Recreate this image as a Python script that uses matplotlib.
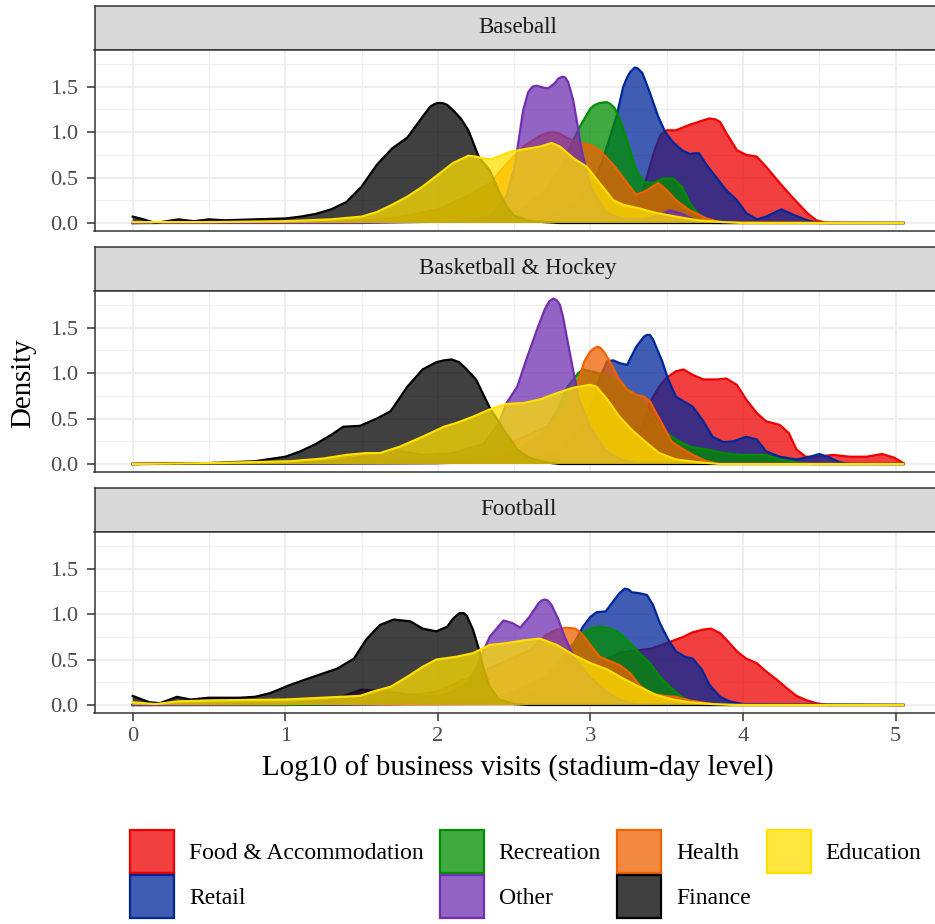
import matplotlib
matplotlib.use("Agg")
import matplotlib.pyplot as plt
from matplotlib.patches import Patch
from matplotlib.colors import to_rgba

plt.rcParams['font.family'] = ['Liberation Serif', 'DejaVu Serif']

# ---------------- data ----------------
FACETS = ["Baseball", "Basketball & Hockey", "Football"]
CATEGORIES = ["Food & Accommodation", "Retail", "Recreation", "Health", "Other", "Finance", "Education"]

# Baseball
BB_FOOD_X = [0, 0.7, 0.85, 1.0, 1.5, 2.5, 3.0, 3.2, 3.3, 3.36, 3.42, 3.46, 3.5, 3.56, 3.65, 3.74, 3.78, 3.82, 3.85, 3.89, 3.96, 4.02, 4.09, 4.15, 4.24, 4.33, 4.42, 4.48, 4.55, 5.05]
BB_FOOD_Y = [0, 0.01, 0.03, 0.01, 0.01, 0.02, 0.03, 0.06, 0.18, 0.45, 0.8, 0.97, 1.02, 1.02, 1.08, 1.13, 1.15, 1.14, 1.11, 0.99, 0.80, 0.75, 0.73, 0.62, 0.44, 0.27, 0.11, 0.03, 0.0, 0]
BB_RETAIL_X = [0, 1.5, 2.5, 2.7, 2.85, 2.95, 3.05, 3.11, 3.17, 3.215, 3.24, 3.26, 3.29, 3.31, 3.34, 3.37, 3.39, 3.444, 3.49, 3.54, 3.60, 3.65, 3.71, 3.76, 3.83, 3.89, 3.96, 4.02, 4.09, 4.15, 4.25, 4.33, 4.42, 4.5, 5.05]
BB_RETAIL_Y = [0, 0.01, 0.02, 0.06, 0.15, 0.3, 0.55, 0.85, 1.17, 1.50, 1.60, 1.66, 1.71, 1.70, 1.65, 1.52, 1.43, 1.17, 1.0, 0.89, 0.80, 0.76, 0.77, 0.64, 0.49, 0.36, 0.25, 0.11, 0.04, 0.07, 0.15, 0.09, 0.03, 0.0, 0]
BB_REC_X = [0, 1.5, 2.2, 2.4, 2.55, 2.7, 2.8, 2.87, 2.93, 3.0, 3.03, 3.06, 3.105, 3.13, 3.16, 3.2, 3.26, 3.30, 3.35, 3.41, 3.48, 3.54, 3.60, 3.65, 3.70, 3.76, 3.85, 5.05]
BB_REC_Y = [0, 0.01, 0.03, 0.07, 0.15, 0.35, 0.6, 0.85, 1.06, 1.26, 1.30, 1.32, 1.33, 1.31, 1.26, 1.11, 0.80, 0.58, 0.45, 0.44, 0.49, 0.49, 0.40, 0.22, 0.11, 0.03, 0.0, 0]
BB_HEALTH_X = [0, 0.7, 0.85, 1.0, 1.2, 1.5, 1.8, 2.0, 2.2, 2.35, 2.45, 2.56, 2.67, 2.72, 2.756, 2.80, 2.843, 2.93, 2.996, 3.06, 3.15, 3.24, 3.30, 3.37, 3.444, 3.50, 3.56, 3.65, 3.76, 3.85, 5.05]
BB_HEALTH_Y = [0, 0.01, 0.04, 0.02, 0.01, 0.02, 0.08, 0.15, 0.3, 0.45, 0.65, 0.84, 0.96, 0.99, 1.0, 0.98, 0.94, 0.88, 0.86, 0.80, 0.64, 0.44, 0.31, 0.36, 0.44, 0.36, 0.25, 0.14, 0.05, 0.01, 0]
BB_OTHER_X = [0, 1.5, 2.2, 2.35, 2.45, 2.5, 2.527, 2.559, 2.592, 2.62, 2.647, 2.69, 2.723, 2.767, 2.79, 2.817, 2.835, 2.854, 2.887, 2.913, 2.942, 3.0, 3.1, 3.2, 3.35, 3.45, 3.52, 3.6, 3.7, 3.8, 5.05]
BB_OTHER_Y = [0, 0.0, 0.02, 0.08, 0.3, 0.6, 0.88, 1.24, 1.44, 1.50, 1.51, 1.49, 1.48, 1.54, 1.59, 1.61, 1.60, 1.55, 1.35, 1.10, 0.80, 0.40, 0.12, 0.05, 0.04, 0.08, 0.14, 0.1, 0.02, 0, 0]
BB_FIN_X = [0, 0.05, 0.15, 0.3, 0.4, 0.5, 0.6, 0.8, 1.0, 1.1, 1.2, 1.3, 1.4, 1.5, 1.6, 1.7, 1.8, 1.9, 1.95, 1.98, 2.0, 2.03, 2.06, 2.1, 2.15, 2.2, 2.27, 2.34, 2.4, 2.45, 2.5, 2.6, 2.8, 5.05]
BB_FIN_Y = [0.07, 0.05, 0.0, 0.04, 0.02, 0.04, 0.03, 0.04, 0.05, 0.07, 0.1, 0.15, 0.23, 0.4, 0.64, 0.82, 0.94, 1.17, 1.28, 1.31, 1.32, 1.32, 1.30, 1.24, 1.15, 1.02, 0.72, 0.58, 0.35, 0.18, 0.08, 0.02, 0.0, 0]
BB_EDU_X = [0, 0.5, 1.0, 1.3, 1.5, 1.6, 1.7, 1.8, 1.9, 2.0, 2.1, 2.2, 2.25, 2.3, 2.35, 2.47, 2.56, 2.67, 2.745, 2.80, 2.89, 2.975, 3.06, 3.15, 3.215, 3.32, 3.43, 3.56, 3.70, 3.87, 4.0, 5.05]
BB_EDU_Y = [0.01, 0.01, 0.02, 0.04, 0.07, 0.12, 0.2, 0.29, 0.4, 0.53, 0.66, 0.74, 0.73, 0.71, 0.70, 0.78, 0.81, 0.84, 0.88, 0.84, 0.71, 0.62, 0.44, 0.25, 0.2, 0.16, 0.11, 0.07, 0.03, 0.01, 0, 0]

# Basketball & Hockey
BK_FOOD_X = [0, 2.0, 2.8, 3.0, 3.2, 3.3, 3.35, 3.39, 3.45, 3.5, 3.56, 3.61, 3.67, 3.74, 3.83, 3.89, 3.96, 4.02, 4.09, 4.15, 4.24, 4.30, 4.35, 4.41, 4.48, 4.59, 4.70, 4.81, 4.91, 4.99, 5.05]
BK_FOOD_Y = [0, 0.01, 0.03, 0.05, 0.1, 0.25, 0.45, 0.68, 0.85, 0.95, 1.02, 1.04, 0.98, 0.93, 0.93, 0.94, 0.87, 0.71, 0.56, 0.47, 0.43, 0.34, 0.16, 0.08, 0.08, 0.10, 0.08, 0.08, 0.11, 0.07, 0.01]
BK_RETAIL_X = [0, 2.0, 2.6, 2.8, 2.9, 3.0, 3.06, 3.11, 3.15, 3.19, 3.24, 3.30, 3.35, 3.37, 3.39, 3.41, 3.43, 3.47, 3.51, 3.56, 3.63, 3.67, 3.74, 3.80, 3.87, 3.94, 4.02, 4.09, 4.15, 4.24, 4.35, 4.44, 4.50, 4.57, 4.63, 4.7, 5.05]
BK_RETAIL_Y = [0, 0.01, 0.05, 0.15, 0.3, 0.6, 0.95, 1.13, 1.14, 1.11, 1.09, 1.29, 1.40, 1.42, 1.42, 1.37, 1.29, 1.13, 0.93, 0.74, 0.67, 0.63, 0.47, 0.30, 0.24, 0.25, 0.30, 0.27, 0.14, 0.08, 0.05, 0.08, 0.11, 0.07, 0.02, 0, 0]
BK_REC_X = [0, 1.0, 1.3, 1.5, 1.8, 2.2, 2.5, 2.7, 2.8, 2.85, 2.92, 2.95, 3.0, 3.1, 3.2, 3.3, 3.4, 3.45, 3.5, 3.56, 3.65, 3.76, 3.87, 3.98, 4.09, 4.15, 4.24, 4.35, 4.45, 5.05]
BK_REC_Y = [0, 0.01, 0.03, 0.03, 0.02, 0.05, 0.12, 0.35, 0.65, 0.85, 1.0, 1.04, 1.02, 0.98, 0.88, 0.75, 0.55, 0.42, 0.34, 0.27, 0.19, 0.16, 0.12, 0.10, 0.10, 0.10, 0.05, 0.02, 0, 0]
BK_HEALTH_X = [0, 1.5, 2.0, 2.3, 2.5, 2.7, 2.85, 2.93, 2.96, 3.0, 3.03, 3.05, 3.07, 3.094, 3.14, 3.18, 3.24, 3.30, 3.35, 3.39, 3.43, 3.48, 3.53, 3.59, 3.67, 3.76, 3.85, 5.05]
BK_HEALTH_Y = [0, 0.02, 0.05, 0.12, 0.25, 0.4, 0.6, 0.96, 1.13, 1.24, 1.28, 1.29, 1.27, 1.22, 1.09, 0.95, 0.82, 0.76, 0.74, 0.69, 0.56, 0.41, 0.25, 0.18, 0.10, 0.03, 0, 0]
BK_OTHER_X = [0, 1.3, 1.5, 1.72, 1.9, 2.1, 2.3, 2.4, 2.45, 2.52, 2.58, 2.65, 2.70, 2.73, 2.756, 2.78, 2.80, 2.82, 2.84, 2.89, 2.92, 3.0, 3.1, 3.2, 3.3, 5.05]
BK_OTHER_Y = [0, 0.02, 0.08, 0.15, 0.1, 0.12, 0.22, 0.45, 0.67, 0.85, 1.15, 1.48, 1.70, 1.79, 1.82, 1.80, 1.75, 1.62, 1.44, 1.0, 0.74, 0.4, 0.15, 0.05, 0.01, 0]
BK_FIN_X = [0, 0.5, 0.8, 1.0, 1.1, 1.2, 1.3, 1.38, 1.49, 1.6, 1.69, 1.8, 1.9, 1.99, 2.04, 2.09, 2.14, 2.19, 2.25, 2.34, 2.43, 2.52, 2.6, 2.7, 2.8, 5.05]
BK_FIN_Y = [0, 0.01, 0.03, 0.08, 0.14, 0.22, 0.32, 0.41, 0.42, 0.5, 0.58, 0.85, 1.04, 1.12, 1.14, 1.15, 1.12, 1.04, 0.93, 0.62, 0.38, 0.16, 0.07, 0.02, 0, 0]
BK_EDU_X = [0, 0.5, 1.03, 1.25, 1.40, 1.53, 1.62, 1.75, 1.90, 2.04, 2.12, 2.23, 2.34, 2.45, 2.56, 2.67, 2.78, 2.89, 2.996, 3.04, 3.11, 3.19, 3.28, 3.37, 3.45, 3.56, 3.70, 3.85, 5.05]
BK_EDU_Y = [0.0, 0.01, 0.03, 0.06, 0.10, 0.12, 0.12, 0.19, 0.30, 0.41, 0.45, 0.52, 0.60, 0.66, 0.67, 0.71, 0.78, 0.84, 0.87, 0.85, 0.71, 0.52, 0.36, 0.23, 0.12, 0.05, 0.02, 0, 0]

# Football
FB_FOOD_X = [0, 2.5, 2.7, 2.9, 3.0, 3.1, 3.2, 3.3, 3.4, 3.53, 3.61, 3.67, 3.74, 3.79, 3.85, 3.89, 3.96, 4.02, 4.09, 4.15, 4.22, 4.29, 4.35, 4.42, 4.48, 4.55, 5.05]
FB_FOOD_Y = [0, 0.01, 0.03, 0.1, 0.3, 0.5, 0.58, 0.6, 0.62, 0.70, 0.75, 0.80, 0.83, 0.84, 0.79, 0.72, 0.59, 0.51, 0.46, 0.37, 0.28, 0.18, 0.10, 0.05, 0.02, 0, 0]
FB_RETAIL_X = [0, 1.0, 2.3, 2.5, 2.7, 2.85, 2.9, 2.95, 3.0, 3.04, 3.10, 3.14, 3.19, 3.225, 3.25, 3.27, 3.32, 3.37, 3.41, 3.455, 3.51, 3.56, 3.62, 3.67, 3.73, 3.78, 3.85, 3.91, 4.0, 5.05]
FB_RETAIL_Y = [0, 0.0, 0.02, 0.05, 0.2, 0.5, 0.7, 0.86, 0.97, 1.02, 1.03, 1.12, 1.23, 1.28, 1.27, 1.24, 1.23, 1.21, 1.10, 0.90, 0.72, 0.59, 0.53, 0.51, 0.39, 0.22, 0.09, 0.04, 0.01, 0]
FB_REC_X = [0, 1.0, 2.3, 2.5, 2.7, 2.8, 2.9, 2.95, 3.0, 3.06, 3.13, 3.19, 3.26, 3.32, 3.39, 3.455, 3.52, 3.59, 3.65, 3.75, 5.05]
FB_REC_Y = [0, 0.0, 0.05, 0.15, 0.3, 0.5, 0.7, 0.79, 0.84, 0.86, 0.84, 0.79, 0.68, 0.57, 0.46, 0.31, 0.20, 0.10, 0.04, 0, 0]
FB_HEALTH_X = [0, 1.0, 1.5, 2.0, 2.2, 2.4, 2.6, 2.71, 2.78, 2.84, 2.90, 2.94, 3.0, 3.06, 3.13, 3.19, 3.26, 3.32, 3.39, 3.48, 3.56, 3.65, 3.76, 3.85, 5.05]
FB_HEALTH_Y = [0, 0.01, 0.03, 0.15, 0.3, 0.45, 0.6, 0.77, 0.83, 0.85, 0.84, 0.79, 0.66, 0.53, 0.48, 0.44, 0.35, 0.22, 0.13, 0.10, 0.09, 0.05, 0.02, 0, 0]
FB_OTHER_X = [0, 1.0, 1.3, 1.5, 1.7, 1.9, 2.0, 2.1, 2.2, 2.25, 2.3, 2.34, 2.43, 2.49, 2.54, 2.60, 2.66, 2.68, 2.70, 2.72, 2.745, 2.79, 2.83, 2.9, 3.0, 3.1, 3.2, 3.3, 5.05]
FB_OTHER_Y = [0, 0.01, 0.05, 0.17, 0.14, 0.1, 0.1, 0.15, 0.25, 0.4, 0.6, 0.75, 0.93, 0.90, 0.85, 0.97, 1.12, 1.15, 1.16, 1.15, 1.10, 0.94, 0.75, 0.5, 0.3, 0.15, 0.05, 0.01, 0]
FB_FIN_X = [0, 0.11, 0.18, 0.29, 0.38, 0.5, 0.7, 0.8, 0.9, 1.03, 1.2, 1.34, 1.45, 1.53, 1.62, 1.71, 1.82, 1.90, 1.99, 2.06, 2.10, 2.14, 2.17, 2.19, 2.23, 2.27, 2.3, 2.34, 2.4, 2.5, 2.6, 5.05]
FB_FIN_Y = [0.10, 0.03, 0.02, 0.09, 0.06, 0.08, 0.08, 0.09, 0.13, 0.22, 0.32, 0.40, 0.51, 0.72, 0.88, 0.94, 0.92, 0.84, 0.81, 0.86, 0.95, 1.01, 1.01, 0.98, 0.83, 0.61, 0.4, 0.2, 0.06, 0.01, 0, 0]
FB_EDU_X = [0, 0.15, 0.3, 0.5, 1.0, 1.49, 1.58, 1.69, 1.80, 1.90, 1.99, 2.12, 2.23, 2.34, 2.45, 2.56, 2.67, 2.78, 2.89, 3.0, 3.11, 3.215, 3.32, 3.43, 3.54, 3.65, 3.8, 3.95, 5.05]
FB_EDU_Y = [0.03, 0.01, 0.04, 0.05, 0.06, 0.10, 0.15, 0.20, 0.31, 0.42, 0.50, 0.53, 0.57, 0.66, 0.68, 0.71, 0.73, 0.66, 0.55, 0.46, 0.39, 0.29, 0.20, 0.11, 0.06, 0.03, 0.01, 0, 0]

X_TICKS = [0, 1, 2, 3, 4, 5]
Y_TICKS = [0.0, 0.5, 1.0, 1.5]
Y_TICK_LABELS = ["0.0", "0.5", "1.0", "1.5"]
X_LABEL = "Log10 of business visits (stadium-day level)"
Y_LABEL = "Density"

SERIES = {
    "Baseball": [(BB_FOOD_X, BB_FOOD_Y), (BB_RETAIL_X, BB_RETAIL_Y), (BB_REC_X, BB_REC_Y),
                 (BB_HEALTH_X, BB_HEALTH_Y), (BB_OTHER_X, BB_OTHER_Y), (BB_FIN_X, BB_FIN_Y), (BB_EDU_X, BB_EDU_Y)],
    "Basketball & Hockey": [(BK_FOOD_X, BK_FOOD_Y), (BK_RETAIL_X, BK_RETAIL_Y), (BK_REC_X, BK_REC_Y),
                            (BK_HEALTH_X, BK_HEALTH_Y), (BK_OTHER_X, BK_OTHER_Y), (BK_FIN_X, BK_FIN_Y), (BK_EDU_X, BK_EDU_Y)],
    "Football": [(FB_FOOD_X, FB_FOOD_Y), (FB_RETAIL_X, FB_RETAIL_Y), (FB_REC_X, FB_REC_Y),
                 (FB_HEALTH_X, FB_HEALTH_Y), (FB_OTHER_X, FB_OTHER_Y), (FB_FIN_X, FB_FIN_Y), (FB_EDU_X, FB_EDU_Y)],
}

# ---------------- styling ----------------
EDGE = {"Food & Accommodation": "#EE0000", "Retail": "#00279A", "Recreation": "#008E00",
        "Health": "#F06200", "Other": "#7030B0", "Finance": "#000000", "Education": "#FFE000"}
ALPHA = 0.75

W, H = 935, 924
fig = plt.figure(figsize=(W / 100, H / 100), dpi=100)

def fx(px):
    return px / W

def fy(py):
    return 1 - py / H

PANEL_L, PANEL_R = 94.5, 941.0
STRIPS = [(5.5, 50.0), (246.7, 291.0), (487.7, 532.0)]
PANELS = [(50.0, 231.0), (291.0, 472.0), (532.0, 713.0)]
XLIM = (-0.250, 5.297)
YLIM = (-0.088, 1.903)

BORDER = "#333333"
GRID = "#EBEBEB"
FS = 16.5

for i, facet in enumerate(FACETS):
    st, sb = STRIPS[i]
    pt, pb = PANELS[i]
    sax = fig.add_axes([fx(PANEL_L), fy(sb), fx(PANEL_R - PANEL_L), (sb - st) / H])
    sax.set_facecolor("#D9D9D9")
    sax.set_xticks([]); sax.set_yticks([])
    for s in sax.spines.values():
        s.set_color(BORDER); s.set_linewidth(1.1)
    sax.text((518 - PANEL_L) / (PANEL_R - PANEL_L), 0.5, facet, ha="center", va="center",
             fontsize=FS, color="#1A1A1A", transform=sax.transAxes)

    ax = fig.add_axes([fx(PANEL_L), fy(pb), fx(PANEL_R - PANEL_L), (pb - pt) / H])
    ax.set_xlim(*XLIM); ax.set_ylim(*YLIM)
    ax.set_facecolor("white")
    for v in [0.5, 1.5, 2.5, 3.5, 4.5]:
        ax.axvline(v, color=GRID, lw=0.6, zorder=0)
    for v in [0.25, 0.75, 1.25, 1.75]:
        ax.axhline(v, color=GRID, lw=0.6, zorder=0)
    for v in X_TICKS:
        ax.axvline(v, color=GRID, lw=1.2, zorder=0)
    for v in Y_TICKS:
        ax.axhline(v, color=GRID, lw=1.2, zorder=0)

    for k, (cat, (xs, ys)) in enumerate(zip(CATEGORIES, SERIES[facet])):
        ec = EDGE[cat]
        ax.fill_between(xs, ys, 0, facecolor=ec, alpha=ALPHA, edgecolor="none", zorder=2 + 2 * k)
        ax.plot(xs, ys, color=ec, lw=1.6, zorder=3 + 2 * k, solid_joinstyle="round")

    for s in ax.spines.values():
        s.set_color(BORDER); s.set_linewidth(1.1)
    ax.set_yticks(Y_TICKS)
    ax.set_yticklabels(Y_TICK_LABELS)
    ax.set_xticks(X_TICKS)
    ax.tick_params(axis="both", colors=BORDER, length=5.8, width=1.1, labelsize=FS - 0.3,
                   labelcolor="#4D4D4D")
    ax.tick_params(axis="y", pad=6)
    ax.tick_params(axis="x", pad=4.5)
    if i < 2:
        ax.tick_params(axis="x", length=0, labelbottom=False)

fig.text(fx(518), fy(768), X_LABEL, ha="center", va="center", fontsize=20.8, color="black")
fig.text(fx(23), fy(383), Y_LABEL, ha="center", va="center", rotation=90, fontsize=20.8, color="black")

order = ["Food & Accommodation", "Retail", "Recreation", "Other", "Health", "Finance", "Education"]
handles = [Patch(facecolor=to_rgba(EDGE[c], ALPHA), edgecolor=EDGE[c], linewidth=1.6, label=c) for c in order]
LFS = 17.0
fs_px = LFS * 100 / 72
hh = 2.42
descent = 0.35 * fs_px * (hh - 0.7)
box_h = fs_px * hh - descent
fig.legend(handles=handles, loc="upper left", bbox_to_anchor=(fx(130), fy(830)), ncol=4,
           frameon=False, fontsize=LFS, handlelength=44 / fs_px, handleheight=hh,
           handletextpad=15 / fs_px, columnspacing=16 / fs_px, labelspacing=(45 - box_h) / fs_px,
           borderpad=0, borderaxespad=0)

fig.savefig("out.png", dpi=100)
